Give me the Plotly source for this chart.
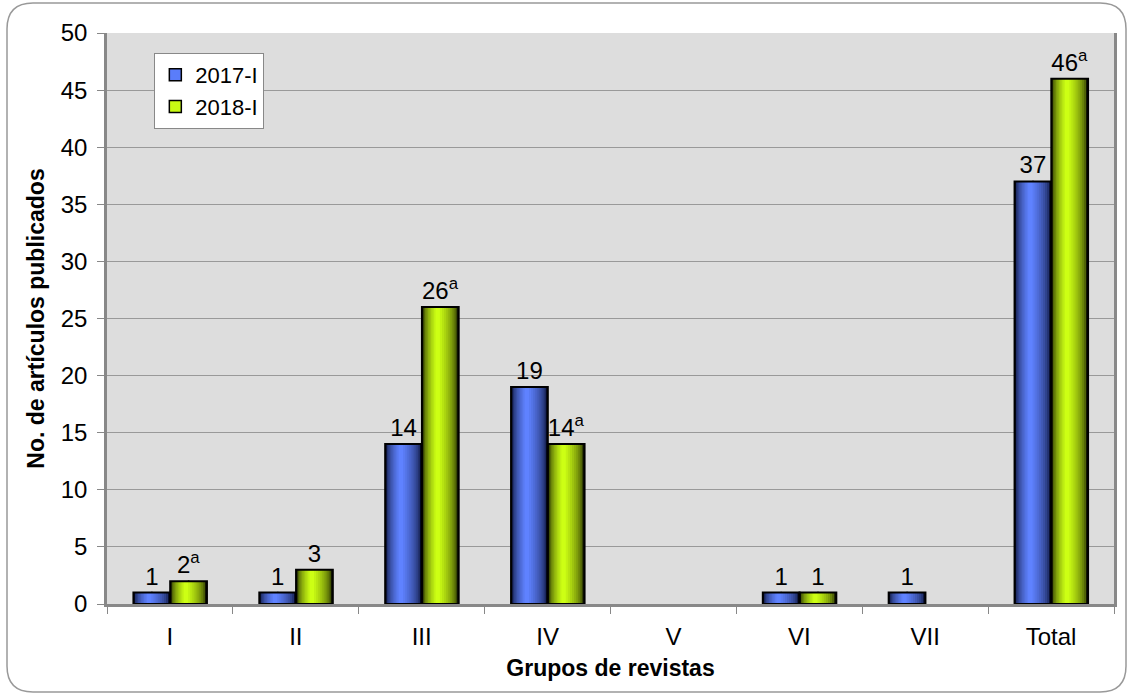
import plotly.graph_objects as go

categories = ["I", "II", "III", "IV", "V", "VI", "VII", "Total"]
series_names = ["2017-I", "2018-I"]
values_2017 = [1, 1, 14, 19, 0, 1, 1, 37]
values_2018 = [2, 3, 26, 14, 0, 1, 0, 46]
labels_2017 = ["1", "1", "14", "19", "", "1", "1", "37"]
labels_2018 = ["2<sup>a</sup>", "3", "26<sup>a</sup>", "14<sup>a</sup>", "", "1", "", "46<sup>a</sup>"]

FONT = "Liberation Sans, Arial, sans-serif"
BAR_W = 0.292
series_style = [
    dict(offset=-0.29, dark=(5, 10, 40), bright=(95, 130, 255), legend=(90, 125, 250)),
    dict(offset=0.002, dark=(20, 25, 0), bright=(205, 255, 20), legend=(200, 250, 20)),
]


def mix(a, b, t):
    return "rgb(%d,%d,%d)" % tuple(round(a[i] + (b[i] - a[i]) * t) for i in range(3))


fig = go.Figure()
N = 10
for name, vals, labs, st in zip(series_names, [values_2017, values_2018],
                                [labels_2017, labels_2018], series_style):
    shown = [v if v else None for v in vals]
    # legend entry (hidden beneath the shading layers)
    fig.add_trace(go.Bar(
        x=categories, y=shown, name=name, width=0.001,
        offset=st["offset"] + BAR_W / 2,
        marker=dict(color="rgb(%d,%d,%d)" % st["legend"], line=dict(color="black", width=1.5)),
        showlegend=True, hoverinfo="skip"))
    # cylinder shading layers (highlight left of centre)
    for k in range(N):
        s = 0.88 * k / (N - 1)
        t = (k / (N - 1)) ** 0.5
        left = s * 0.42 * BAR_W
        right = s * 0.58 * BAR_W
        w = BAR_W - left - right
        fig.add_trace(go.Bar(
            x=categories, y=shown, width=w,
            offset=st["offset"] + left,
            marker=dict(color=mix(st["dark"], st["bright"], t), line=dict(width=0)),
            showlegend=False, hoverinfo="skip"))
    # outline + labels
    fig.add_trace(go.Bar(
        x=categories, y=shown, width=BAR_W, offset=st["offset"],
        marker=dict(color="rgba(0,0,0,0)", line=dict(color="black", width=2)),
        text=labs, textposition="outside", cliponaxis=False,
        textfont=dict(family=FONT, size=24, color="black"),
        showlegend=False, name=name))

fig.update_layout(
    barmode="overlay",
    width=1129, height=694,
    margin=dict(l=107, r=12, t=33, b=90),
    paper_bgcolor="white",
    plot_bgcolor="#DDDDDD",
    font=dict(family=FONT, size=24, color="black"),
    showlegend=True,
    legend=dict(x=0.047, y=0.965, xanchor="left", yanchor="top",
                bgcolor="white", bordercolor="#888888", borderwidth=1,
                font=dict(family=FONT, size=22), itemwidth=30, tracegroupgap=0),
)
fig.update_yaxes(
    range=[0, 50], dtick=5, showgrid=True, gridcolor="#999999", gridwidth=1,
    ticks="outside", ticklen=7, tickcolor="#888888", ticklabelstandoff=5,
    showline=True, linecolor="#888888", linewidth=2.5, mirror=True,
    tickfont=dict(family=FONT, size=24),
    title=dict(text="<b>No. de artículos publicados</b>", font=dict(family=FONT, size=23), standoff=10),
    zeroline=False,
)
fig.update_xaxes(
    tickson="boundaries", ticks="outside", ticklen=7, tickcolor="#888888", ticklabelstandoff=9,
    showline=True, linecolor="#888888", linewidth=2.5, showgrid=False,
    tickfont=dict(family=FONT, size=24),
    title=dict(text="<b>Grupos de revistas</b>", font=dict(family=FONT, size=23), standoff=12),
)
# rounded chart border
fig.add_shape(type="path", xref="paper", yref="paper", xsizemode="pixel", ysizemode="pixel",
              xanchor=0, yanchor=0,
              path="M -74,-88 L 993,-88 Q 1019,-88 1019,-62 L 1019,575 Q 1019,601 993,601 "
                   "L -74,601 Q -100,601 -100,575 L -100,-62 Q -100,-88 -74,-88 Z",
              line=dict(color="#999999", width=1.5), layer="below")

fig.write_html("out.html", config={"displayModeBar": False},
               post_script="document.body.style.margin='0px';")
